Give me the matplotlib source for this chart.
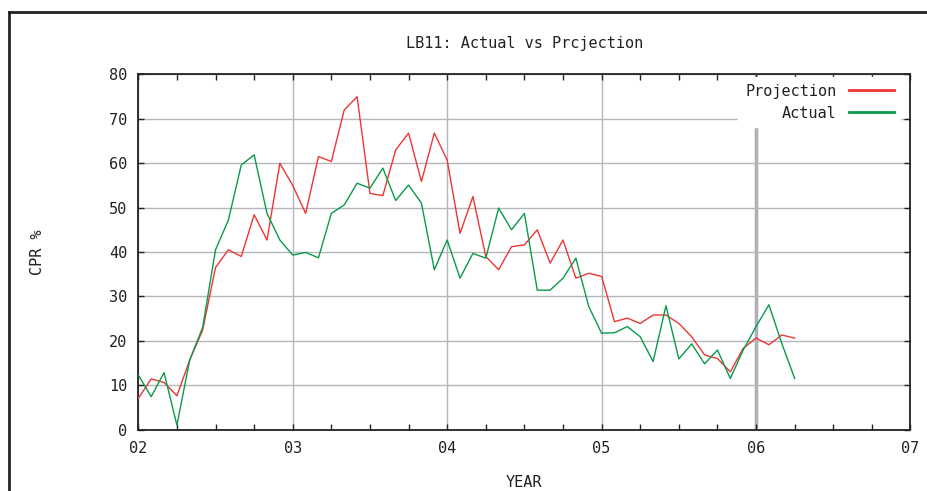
import numpy as np
import matplotlib.pyplot as plt
from matplotlib.lines import Line2D

# monthly CPR values, Jan 2002 .. Apr 2006
projection = [7.0, 11.4, 10.6, 7.6, 15.7, 22.4, 36.5, 40.5, 39.0, 48.4,
              42.7, 60.0, 55.0, 48.7, 61.5, 60.4, 72.0, 75.0, 53.2, 52.7,
              63.0, 66.8, 55.9, 66.8, 60.7, 44.2, 52.5, 39.0, 36.0, 41.2,
              41.6, 45.0, 37.5, 42.7, 34.1, 35.2, 34.5, 24.3, 25.1, 23.9,
              25.8, 25.8, 23.9, 20.9, 16.8, 16.0, 13.0, 18.3, 20.6, 19.1,
              21.3, 20.6]
actual = [12.3, 7.4, 12.8, 1.0, 15.7, 23.0, 40.5, 47.2, 59.6, 61.9,
          48.7, 42.7, 39.3, 39.9, 38.7, 48.7, 50.6, 55.5, 54.4, 58.9,
          51.6, 55.1, 51.0, 36.0, 42.7, 34.1, 39.7, 38.6, 49.9, 45.0,
          48.7, 31.4, 31.4, 34.1, 38.6, 27.7, 21.7, 21.8, 23.2, 20.9,
          15.3, 27.9, 15.9, 19.3, 14.8, 17.9, 11.5, 17.9, 23.2, 28.1,
          19.4, 11.5]
years = 2 + np.arange(len(actual)) / 12.0
year_ticks = [2, 3, 4, 5, 6, 7]
year_labels = ['02', '03', '04', '05', '06', '07']

plt.rcParams['font.family'] = 'DejaVu Sans Mono'

fig = plt.figure(figsize=(9.28, 4.91), dpi=100)
ax = fig.add_axes([138.3/928, 61.5/491, (910.5-138.3)/928, (429.5-74.5)/491])

ax.plot(years, projection, color='#ee3535', lw=1.0, label='Projection', zorder=3)
ax.plot(years, actual, color='#0a9a4a', lw=1.0, label='Actual', zorder=3)

ax.set_xlim(2, 7)
ax.set_ylim(0, 80)
ax.set_xticks(year_ticks)
ax.set_xticklabels(year_labels)
ax.set_xticks(np.arange(2, 7.01, 0.25), minor=True)
ax.set_yticks(range(0, 81, 10))
ax.tick_params(which='both', direction='in', top=True, right=True, length=4,
               width=1, labelsize=11, colors='#222222', pad=8)
ax.grid(True, which='major', color='#b4b6bc', lw=1.0)
ax.axvline(6, color='#a8aab0', lw=2.5, zorder=1)
for s in ax.spines.values():
    s.set_color('#222222')
    s.set_linewidth(1.3)

ax.set_title('LB11: Actual vs Prcjection', fontsize=11, pad=19, color='#222222')
ax.set_xlabel('YEAR', fontsize=11, labelpad=14, color='#222222')
ax.set_ylabel('CPR %', fontsize=11, labelpad=46, color='#222222')

# text on the left, sample line on the right, white box hides the grid
leg = ax.legend(loc='upper right', bbox_to_anchor=(0.99, 1.0), markerfirst=False,
                fontsize=11, frameon=True, fancybox=False, framealpha=1,
                edgecolor='white', facecolor='white', handlelength=2.95,
                borderaxespad=0.15, labelspacing=0.45, handletextpad=0.8,
                borderpad=0.45)
leg.set_zorder(5)
for t in leg.get_texts():
    t.set_ha('right')
    t.set_color('#222222')
for h in leg.get_lines():
    h.set_linewidth(2.0)

# outer border of the panel
fig.add_artist(Line2D([9/928, 1], [1 - 12/491, 1 - 12/491], color='#222222', lw=2.0))
fig.add_artist(Line2D([9/928, 9/928], [0, 1 - 12/491], color='#222222', lw=2.0))

fig.savefig('out.png', dpi=100)
